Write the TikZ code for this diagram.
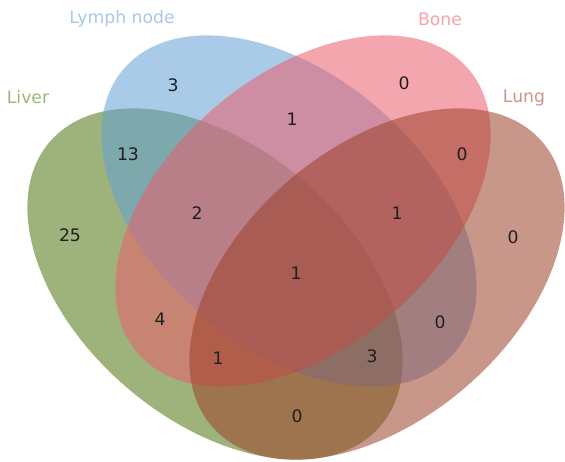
\documentclass[tikz,border=0pt]{standalone}
\usepackage{fontspec}
\setmainfont{DejaVu Sans}
\usepackage{xcolor}
\definecolor{livercol}{RGB}{77,117,15}
\definecolor{lymphcol}{RGB}{99,160,213}
\definecolor{bonecol}{RGB}{235,93,108}
\definecolor{lungcol}{RGB}{157,64,42}
\definecolor{livertxt}{RGB}{157,181,123}
\definecolor{lymphtxt}{RGB}{168,200,230}
\definecolor{bonetxt}{RGB}{244,163,171}
\definecolor{lungtxt}{RGB}{201,150,139}

\begin{document}
\begin{tikzpicture}[
  x=0.02cm, y=-0.02cm,
  setfill/.style={fill opacity=0.55},
  setlabel/.style={font=\fontsize{9.8}{12}\selectfont, inner sep=0pt},
  countlabel/.style={font=\fontsize{9.8}{12}\selectfont, text=black!88, inner sep=0pt},
]
\useasboundingbox (0,0) rectangle (565,461);

% Sets (bottom to top)
\fill[livercol, setfill] (215,284) ellipse [x radius=218, y radius=136, rotate=-40.7];
\fill[lymphcol, setfill] (289,211) ellipse [x radius=218, y radius=136, rotate=-40.7];
\fill[bonecol,  setfill] (303,211) ellipse [x radius=218, y radius=136, rotate=40.7];
\fill[lungcol,  setfill] (377,284) ellipse [x radius=218, y radius=136, rotate=40.7];

% Set names
\node[setlabel, text=lymphtxt] (lymphlab) at (122,19) {Lymph node};
\node[setlabel, text=bonetxt]  (bonelab)  at (440,19) {Bone};
\node[setlabel, text=livertxt] (liverlab) at (28,97)  {Liver};
\node[setlabel, text=lungtxt]  (lunglab)  at (524,98) {Lung};

% Counts
\node[countlabel] (lym)          at (173,85)  {3};
\node[countlabel] (bon)          at (404,83)  {0};
\node[countlabel] (livlym)       at (128,154) {13};
\node[countlabel] (lymbon)       at (292,119) {1};
\node[countlabel] (bonlun)       at (462,154) {0};
\node[countlabel] (liv)          at (70,235)  {25};
\node[countlabel] (livlymbon)    at (197,213) {2};
\node[countlabel] (lymbonlun)    at (397,213) {1};
\node[countlabel] (lun)          at (513,237) {0};
\node[countlabel] (all)          at (296,273) {1};
\node[countlabel] (livbon)       at (160,319) {4};
\node[countlabel] (lymlun)       at (440,322) {0};
\node[countlabel] (livbonlun)    at (218,358) {1};
\node[countlabel] (livlymlun)    at (372,356) {3};
\node[countlabel] (livlun)       at (297,416) {0};

\end{tikzpicture}
\end{document}
